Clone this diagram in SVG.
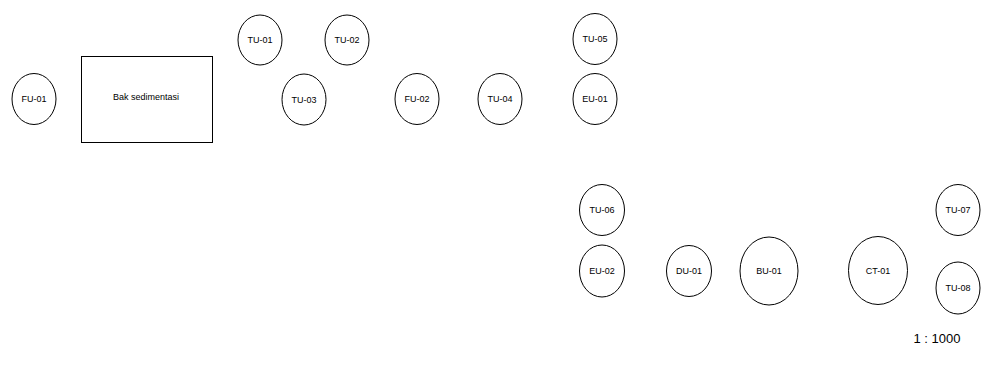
<svg xmlns="http://www.w3.org/2000/svg" width="982" height="374" viewBox="0 0 982 374">
<style>
.n{fill:#fff;stroke:#000;stroke-width:1}
.t{font-family:"Liberation Sans",Arial,sans-serif;font-size:9px;fill:#000;text-anchor:middle;dominant-baseline:central}
.s{font-family:"Liberation Sans",Arial,sans-serif;font-size:13px;fill:#000;text-anchor:middle}
</style>
<rect width="982" height="374" fill="#fff"/>
<g id="connectors"></g>
<g id="FU-01"><ellipse class="n" cx="34" cy="99" rx="22" ry="25.5"/><text class="t" x="34" y="99">FU-01</text></g>
<g id="bak-sedimentasi"><rect class="n" x="81.5" y="56.5" width="131" height="86"/><text class="t" x="146" y="97">Bak sedimentasi</text></g>
<g id="TU-01"><ellipse class="n" cx="260" cy="40" rx="22" ry="25"/><text class="t" x="260" y="40">TU-01</text></g>
<g id="TU-02"><ellipse class="n" cx="347" cy="40" rx="22" ry="25"/><text class="t" x="347" y="40">TU-02</text></g>
<g id="TU-03"><ellipse class="n" cx="304" cy="99.5" rx="22" ry="25.5"/><text class="t" x="304" y="99.5">TU-03</text></g>
<g id="FU-02"><ellipse class="n" cx="417" cy="99" rx="22" ry="25.5"/><text class="t" x="417" y="99">FU-02</text></g>
<g id="TU-04"><ellipse class="n" cx="500" cy="99" rx="22" ry="25.5"/><text class="t" x="500" y="99">TU-04</text></g>
<g id="TU-05"><ellipse class="n" cx="595" cy="39" rx="22" ry="25.5"/><text class="t" x="595" y="39">TU-05</text></g>
<g id="EU-01"><ellipse class="n" cx="595" cy="99" rx="22" ry="25.5"/><text class="t" x="595" y="99">EU-01</text></g>
<g id="TU-06"><ellipse class="n" cx="602" cy="210" rx="22.5" ry="25.5"/><text class="t" x="602" y="210">TU-06</text></g>
<g id="EU-02"><ellipse class="n" cx="602" cy="271" rx="22.5" ry="26"/><text class="t" x="602" y="271">EU-02</text></g>
<g id="DU-01"><ellipse class="n" cx="689" cy="271" rx="22.5" ry="25.5"/><text class="t" x="689" y="271">DU-01</text></g>
<g id="BU-01"><ellipse class="n" cx="769" cy="271" rx="29" ry="34"/><text class="t" x="769" y="271">BU-01</text></g>
<g id="CT-01"><ellipse class="n" cx="878" cy="270.5" rx="29.5" ry="34"/><text class="t" x="878" y="270.5">CT-01</text></g>
<g id="TU-07"><ellipse class="n" cx="958" cy="210" rx="22" ry="25.5"/><text class="t" x="958" y="210">TU-07</text></g>
<g id="TU-08"><ellipse class="n" cx="958" cy="288" rx="22" ry="26"/><text class="t" x="958" y="288">TU-08</text></g>
<text class="s" x="937" y="343">1 : 1000</text>
</svg>
